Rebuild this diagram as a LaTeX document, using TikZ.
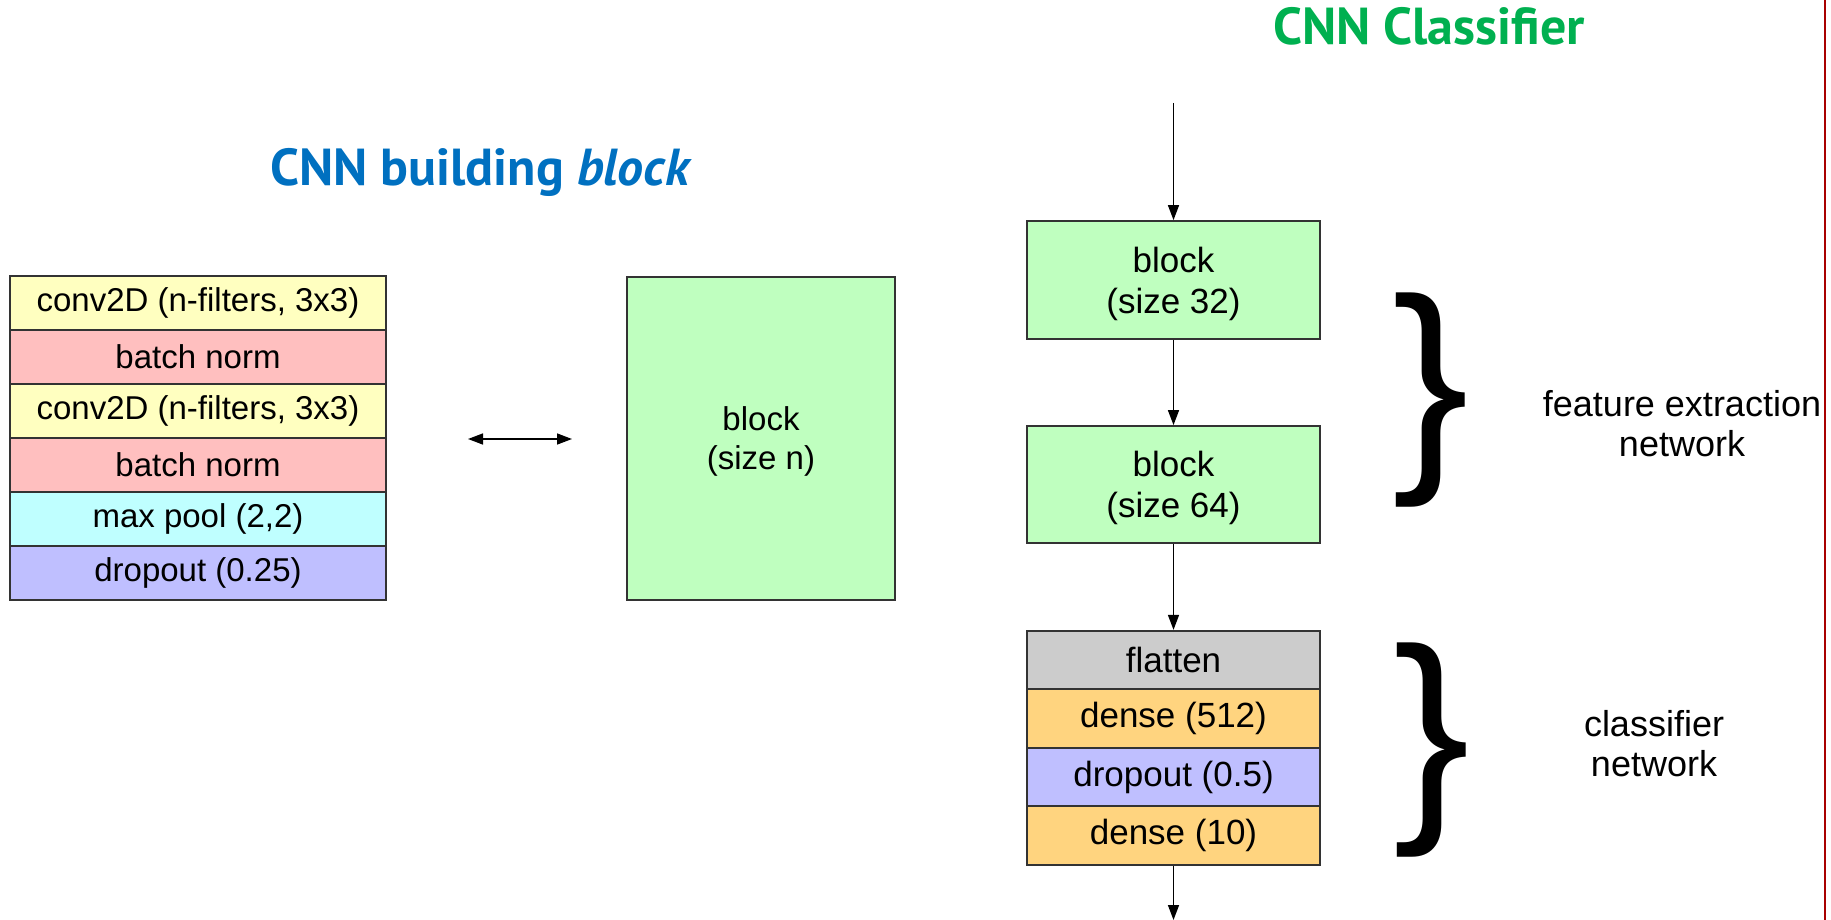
\documentclass[tikz,border=0pt]{standalone}
\usepackage{fontspec}
\setmainfont{Liberation Sans}
\newfontfamily\titlefont{PT Sans}
\usetikzlibrary{arrows.meta}
\definecolor{cyellow}{HTML}{FFFFC0}
\definecolor{cpink}{HTML}{FFBFBF}
\definecolor{ccyan}{HTML}{BFFFFF}
\definecolor{clav}{HTML}{BFBFFF}
\definecolor{cgreen}{HTML}{BFFFBF}
\definecolor{cgrey}{HTML}{CCCCCC}
\definecolor{corange}{HTML}{FFD47F}
\definecolor{boxline}{HTML}{333333}
\definecolor{tblue}{HTML}{0070C0}
\definecolor{tgreen}{HTML}{00B050}
\definecolor{redline}{HTML}{A80000}
\begin{document}
\begin{tikzpicture}[x=0.5pt,y=-0.5pt,
  layer/.style={draw=boxline, line width=0.9pt, inner sep=0pt, minimum width=188pt, minimum height=27pt, font=\fontsize{16.5}{18}\selectfont},
  rlayer/.style={draw=boxline, line width=0.9pt, inner sep=0pt, minimum width=146.5pt, minimum height=29.25pt, font=\fontsize{17.5}{19.5}\selectfont},
  bigblock/.style={draw=boxline, line width=0.9pt, inner sep=0pt, fill=cgreen, align=center},
  conn/.style={-{Triangle[length=7.5pt,width=5.5pt]}, line width=0.75pt},
  dconn/.style={{Triangle[length=7.5pt,width=5.5pt]}-{Triangle[length=7.5pt,width=5.5pt]}, line width=0.75pt},
  bracenode/.style={inner sep=0pt, font=\fontsize{115}{115}\selectfont},
  label/.style={align=center, inner sep=0pt, font=\fontsize{18}{20}\selectfont},
  title/.style={inner sep=0pt, font=\titlefont\bfseries\fontsize{26}{30}\selectfont}
]
\useasboundingbox (0,0) rectangle (1831,920);

% titles
\node[title, text=tblue, anchor=base] (t1) at (481,185) {CNN building \textit{block}};
\node[title, text=tgreen, anchor=base] (t2) at (1429,45) {CNN Classifier};

% left stack
\node[layer, fill=cyellow] (c1) at (198,303) {conv2D (n-filters, 3x3)};
\node[layer, fill=cpink]   (b1) at (198,357) {batch norm};
\node[layer, fill=cyellow] (c2) at (198,411) {conv2D (n-filters, 3x3)};
\node[layer, fill=cpink]   (b2) at (198,465) {batch norm};
\node[layer, fill=ccyan]   (mp) at (198,519) {max pool (2,2)};
\node[layer, fill=clav]    (do) at (198,573) {dropout (0.25)};

% double arrow
\coordinate (da1) at (468,439);
\coordinate (da2) at (572,439);
\draw[dconn] (da1) -- (da2);

% block n
\node[bigblock, minimum width=134pt, minimum height=161.5pt, text depth=0.5pt,
  font=\fontsize{16.5}{19.3}\selectfont] (bn) at (761,438.5) {block\\(size n)};

% right column
\node[bigblock, minimum width=146.5pt, minimum height=59pt, text depth=-1.3pt,
  font=\fontsize{17.5}{20.5}\selectfont] (b32) at (1173.5,280) {block\\(size 32)};
\node[bigblock, minimum width=146.5pt, minimum height=58.5pt, text depth=0.5pt,
  font=\fontsize{17.5}{20.5}\selectfont] (b64) at (1173.5,484.5) {block\\(size 64)};
\node[rlayer, fill=cgrey]   (fl) at (1173.5,660) {flatten};
\node[rlayer, fill=corange] (d512) at (1173.5,718.5) {dense (512)};
\node[rlayer, fill=clav]    (d05) at (1173.5,777) {dropout (0.5)};
\node[rlayer, fill=corange] (d10) at (1173.5,835.5) {dense (10)};

\coordinate (in) at (1173.5,103);
\coordinate (out) at (1173.5,920);
\draw[conn] (in) -- (b32.north);
\draw[conn] (b32.south) -- (b64.north);
\draw[conn] (b64.south) -- (fl.north);
\draw[conn] (d10.south) -- (out);

% braces and labels
\node[bracenode] (br1) at (1431,400) {\}};
\node[bracenode] (br2) at (1432,750) {\}};
\node[label] (l1) at (1682,424) {feature extraction\\network};
\node[label] (l2) at (1654,744) {classifier\\network};

% red line
\coordinate (r1) at (1825,0);
\coordinate (r2) at (1825,920);
\draw[redline, line width=1.1pt] (r1) -- (r2);
\end{tikzpicture}
\end{document}
